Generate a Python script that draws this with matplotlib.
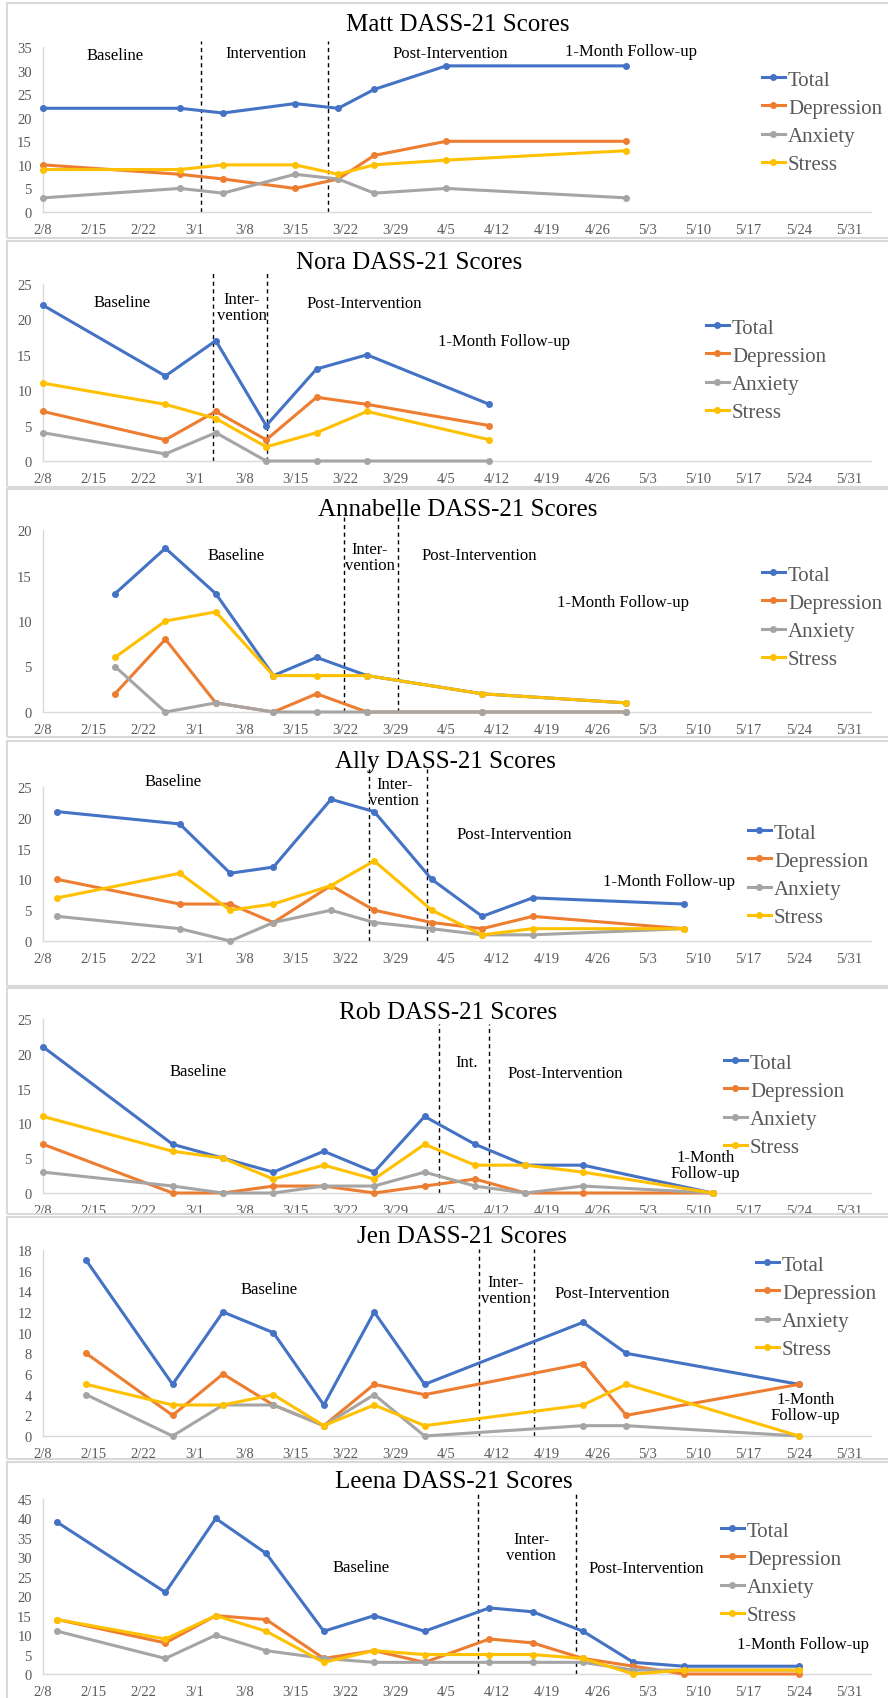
import pandas as pd
import matplotlib.pyplot as plt
from matplotlib.patches import Rectangle

plt.rcParams['font.family'] = ['Liberation Serif', 'DejaVu Serif']

# week labels on the x axis (2/8 .. 5/31)
week_labels = ['2/8', '2/15', '2/22', '3/1', '3/8', '3/15', '3/22', '3/29', '4/5',
               '4/12', '4/19', '4/26', '5/3', '5/10', '5/17', '5/24', '5/31']
series_names = ['Total', 'Depression', 'Anxiety', 'Stress']
series_colors = ['#4472C4', '#ED7D31', '#A5A5A5', '#FFC000']

# --- Matt ---
matt_dates = ['2/8', '2/27', '3/5', '3/15', '3/21', '3/26', '4/5', '4/30']
matt_total = [22, 22, 21, 23, 22, 26, 31, 31]
matt_dep = [10, 8, 7, 5, 7, 12, 15, 15]
matt_anx = [3, 5, 4, 8, 7, 4, 5, 3]
matt_stress = [9, 9, 10, 10, 8, 10, 11, 13]
matt_phases = ['Baseline', 'Intervention', 'Post-Intervention', '1-Month Follow-up']

# --- Nora ---
nora_dates = ['2/8', '2/25', '3/4', '3/11', '3/18', '3/25', '4/11']
nora_total = [22, 12, 17, 5, 13, 15, 8]
nora_dep = [7, 3, 7, 3, 9, 8, 5]
nora_anx = [4, 1, 4, 0, 0, 0, 0]
nora_stress = [11, 8, 6, 2, 4, 7, 3]
nora_phases = ['Baseline', 'Inter-\nvention', 'Post-Intervention', '1-Month Follow-up']

# --- Annabelle ---
anna_dates = ['2/18', '2/25', '3/4', '3/12', '3/18', '3/25', '4/10', '4/30']
anna_total = [13, 18, 13, 4, 6, 4, 2, 1]
anna_dep = [2, 8, 1, 0, 2, 0, 0, 0]
anna_anx = [5, 0, 1, 0, 0, 0, 0, 0]
anna_stress = [6, 10, 11, 4, 4, 4, 2, 1]
anna_phases = ['Baseline', 'Inter-\nvention', 'Post-Intervention', '1-Month Follow-up']

# --- Ally ---
ally_dates = ['2/10', '2/27', '3/6', '3/12', '3/20', '3/26', '4/3', '4/10', '4/17', '5/8']
ally_total = [21, 19, 11, 12, 23, 21, 10, 4, 7, 6]
ally_dep = [10, 6, 6, 3, 9, 5, 3, 2, 4, 2]
ally_anx = [4, 2, 0, 3, 5, 3, 2, 1, 1, 2]
ally_stress = [7, 11, 5, 6, 9, 13, 5, 1, 2, 2]
ally_phases = ['Baseline', 'Inter-\nvention', 'Post-Intervention', '1-Month Follow-up']

# --- Rob ---
rob_dates = ['2/8', '2/26', '3/5', '3/12', '3/19', '3/26', '4/2', '4/9', '4/16', '4/24', '5/12']
rob_total = [21, 7, 5, 3, 6, 3, 11, 7, 4, 4, 0]
rob_dep = [7, 0, 0, 1, 1, 0, 1, 2, 0, 0, 0]
rob_anx = [3, 1, 0, 0, 1, 1, 3, 1, 0, 1, 0]
rob_stress = [11, 6, 5, 2, 4, 2, 7, 4, 4, 3, 0]
rob_phases = ['Baseline', 'Int.', 'Post-Intervention', '1-Month\nFollow-up']

# --- Jen ---
jen_dates = ['2/14', '2/26', '3/5', '3/12', '3/19', '3/26', '4/2', '4/24', '4/30', '5/24']
jen_total = [17, 5, 12, 10, 3, 12, 5, 11, 8, 5]
jen_dep = [8, 2, 6, 3, 1, 5, 4, 7, 2, 5]
jen_anx = [4, 0, 3, 3, 1, 4, 0, 1, 1, 0]
jen_stress = [5, 3, 3, 4, 1, 3, 1, 3, 5, 0]
jen_phases = ['Baseline', 'Inter-\nvention', 'Post-Intervention', '1-Month\nFollow-up']

# --- Leena ---
leena_dates = ['2/10', '2/25', '3/4', '3/11', '3/19', '3/26', '4/2', '4/11', '4/17',
               '4/24', '5/1', '5/8', '5/24']
leena_total = [39, 21, 40, 31, 11, 15, 11, 17, 16, 11, 3, 2, 2]
leena_dep = [14, 8, 15, 14, 4, 6, 3, 9, 8, 4, 2, 0, 0]
leena_anx = [11, 4, 10, 6, 4, 3, 3, 3, 3, 3, 1, 1, 1]
leena_stress = [14, 9, 15, 11, 3, 6, 5, 5, 5, 4, 0, 1, 1]
leena_phases = ['Baseline', 'Inter-\nvention', 'Post-Intervention', '1-Month Follow-up']

start = pd.Timestamp(2021, 2, 8)


def to_days(dates):
    return [(pd.Timestamp(2021, int(d.split('/')[0]), int(d.split('/')[1])) - start).days
            for d in dates]


W, H = 888, 1699
fig = plt.figure(figsize=(W / 100, H / 100), dpi=100)

# panel: title, data, layout (all positions in pixels of the output / data units)
panels = [
    dict(title='Matt DASS-21 Scores', dates=matt_dates,
         ys=[matt_total, matt_dep, matt_anx, matt_stress], phases=matt_phases,
         box=(4, 239), plot=(48, 213), ymax=35, step=5, title_xy=(458, 25),
         vlines=[22, 39.6], vtop=36.3,
         labels_at=[(10, 33.3), (30.9, 33.8), (56.6, 33.8), (81.7, 34.1)],
         legend_at=(762, 71)),
    dict(title='Nora DASS-21 Scores', dates=nora_dates,
         ys=[nora_total, nora_dep, nora_anx, nora_stress], phases=nora_phases,
         box=(242, 488), plot=(285, 462), ymax=25, step=5, title_xy=(409, 263),
         vlines=[23.6, 31.1], vtop=26.9,
         labels_at=[(11, 22.4), (27.6, 21.7), (44.6, 22.3), (64, 16.9)],
         legend_at=(706, 319)),
    dict(title='Annabelle DASS-21 Scores', dates=anna_dates,
         ys=[anna_total, anna_dep, anna_anx, anna_stress], phases=anna_phases,
         box=(490, 738), plot=(531, 713), ymax=20, step=5, title_xy=(458, 510),
         vlines=[41.8, 49.3], vtop=21.4,
         labels_at=[(26.8, 17.3), (45.4, 17.0), (60.6, 17.2), (80.5, 12.1)],
         legend_at=(762, 566)),
    dict(title='Ally DASS-21 Scores', dates=ally_dates,
         ys=[ally_total, ally_dep, ally_anx, ally_stress], phases=ally_phases,
         box=(742, 987), plot=(788, 942), ymax=25, step=5, title_xy=(445, 762),
         vlines=[45.3, 53.3], vtop=28.0,
         labels_at=[(18, 26.0), (48.8, 24.2), (65.5, 17.3), (87, 9.7)],
         legend_at=(748, 824)),
    dict(title='Rob DASS-21 Scores', dates=rob_dates,
         ys=[rob_total, rob_dep, rob_anx, rob_stress], phases=rob_phases,
         box=(989, 1215), plot=(1020, 1194), ymax=25, step=5, title_xy=(448, 1013),
         vlines=[55, 62], vtop=24.3,
         labels_at=[(21.5, 17.6), (58.8, 18.8), (72.5, 17.3), (92, 4.0)],
         legend_at=(724, 1054)),
    dict(title='Jen DASS-21 Scores', dates=jen_dates,
         ys=[jen_total, jen_dep, jen_anx, jen_stress], phases=jen_phases,
         box=(1218, 1460), plot=(1251, 1437), ymax=18, step=2, title_xy=(462, 1237),
         vlines=[60.5, 68.2], vtop=18.1,
         labels_at=[(31.4, 14.2), (64.3, 14.1), (79.1, 13.8), (105.9, 2.8)],
         legend_at=(756, 1256)),
    dict(title='Leena DASS-21 Scores', dates=leena_dates,
         ys=[leena_total, leena_dep, leena_anx, leena_stress], phases=leena_phases,
         box=(1463, 1702), plot=(1500, 1675), ymax=45, step=5, title_xy=(454, 1482),
         vlines=[60.4, 74], vtop=46.3,
         labels_at=[(44.2, 27.6), (67.8, 32.6), (83.8, 27.2), (105.6, 7.7)],
         legend_at=(721, 1522)),
]

x_left, x_right = 43, 871
week_days = [7 * i for i in range(len(week_labels))]

for p in panels:
    top, bottom = p['box']
    fig.add_artist(Rectangle((7 / W, 1 - bottom / H), (W - 7 + 10) / W, (bottom - top) / H,
                             transform=fig.transFigure, fill=False,
                             edgecolor='#D9D9D9', linewidth=1.5))

    ptop, pbot = p['plot']
    ax = fig.add_axes([x_left / W, 1 - pbot / H, (x_right - x_left) / W, (pbot - ptop) / H])
    ax.set_xlim(0, 115)
    ax.set_ylim(0, p['ymax'])
    ax.set_xticks(week_days)
    ax.set_xticklabels(week_labels)
    ax.set_yticks(range(0, p['ymax'] + 1, p['step']))
    ax.tick_params(length=0, labelsize=10.5, labelcolor='#595959', pad=8)
    for s in ['top', 'right']:
        ax.spines[s].set_visible(False)
    for s in ['left', 'bottom']:
        ax.spines[s].set_color('#D9D9D9')
        ax.spines[s].set_linewidth(1)
    ax.patch.set_alpha(0)

    x = to_days(p['dates'])
    handles = []
    for y, name, c in zip(p['ys'], series_names, series_colors):
        h, = ax.plot(x, y, color=c, lw=2.2, marker='o', ms=4, label=name,
                     clip_on=False, zorder=3)
        handles.append(h)

    for v in p['vlines']:
        ax.plot([v, v], [0, p['vtop']], color='black', lw=1, ls=(0, (3, 2.5)),
                clip_on=False, zorder=2)

    for txt, (lx, ly) in zip(p['phases'], p['labels_at']):
        ax.text(lx, ly, txt, ha='center', va='center', fontsize=12,
                linespacing=1.0, color='black')

    fig.text(p['title_xy'][0] / W, 1 - p['title_xy'][1] / H, p['title'],
             ha='center', va='center', fontsize=18, color='black')

    lx, ly = p['legend_at']
    ax.legend(handles=handles, loc='upper left',
              bbox_to_anchor=(lx / W, 1 - ly / H), bbox_transform=fig.transFigure,
              frameon=False, fontsize=15, labelcolor='#595959', borderpad=0,
              borderaxespad=0, handlelength=1.1, handletextpad=0.15,
              labelspacing=0.41)

fig.savefig('out.png', dpi=100)
